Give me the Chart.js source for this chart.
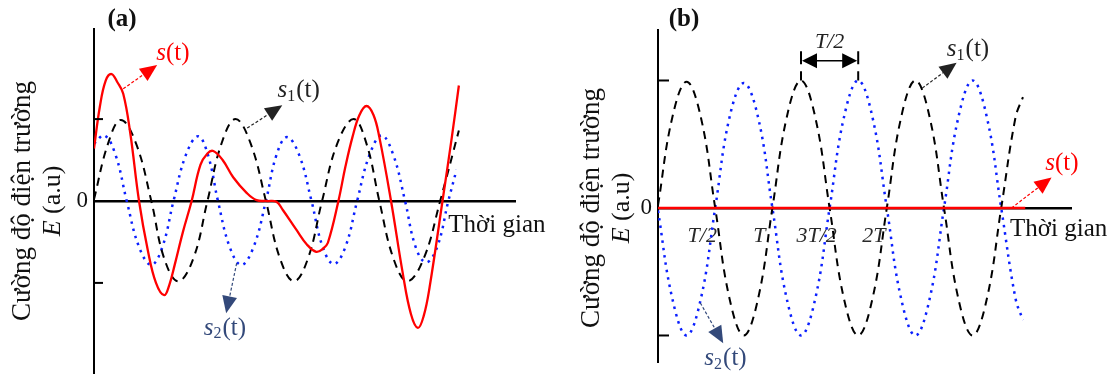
<!DOCTYPE html>
<html>
<head>
<meta charset="utf-8">
<script src="https://cdn.jsdelivr.net/npm/chart.js"></script>
<style>
  html, body { margin: 0; padding: 0; background: #fff; }
  #wrap { position: relative; width: 1113px; height: 376px; }
  canvas { position: absolute; top: 0; }
  #chartA { left: 0; }
  #chartB { left: 556px; }
</style>
</head>
<body>
<div id="wrap">
  <canvas id="chartA" width="556" height="376"></canvas>
  <canvas id="chartB" width="557" height="376"></canvas>
</div>
<script>
// time in units of T (period of s1), field E in a.u.

// (a) two waves of different period
var tS1a = [0, 0.12, 0.23, 0.36, 0.49, 0.6, 0.72, 0.85, 0.97, 1.09, 1.21, 1.34, 1.47, 1.59, 1.71, 1.83, 1.95, 2.08, 2.22, 2.33, 2.44, 2.56, 2.68, 2.82, 2.96, 3.12];
var s1a  = [0.02, 0.7, 0.99, 0.7, 0, -0.7, -0.98, -0.7, 0, 0.7, 1.0, 0.7, 0, -0.7, -0.98, -0.7, 0, 0.7, 1.0, 0.7, 0, -0.7, -0.98, -0.7, 0, 0.86];

var tS2a = [0, 0.09, 0.185, 0.28, 0.385, 0.49, 0.585, 0.68, 0.785, 0.89, 0.975, 1.06, 1.16, 1.26, 1.365, 1.47, 1.56, 1.65, 1.755, 1.86, 1.955, 2.05, 2.15, 2.25, 2.355, 2.46, 2.56, 2.66, 2.75, 2.84, 2.935, 3.03, 3.1];
var s2a  = [0.7, 0.8, 0.56, 0, -0.56, -0.78, -0.56, 0, 0.56, 0.79, 0.56, 0, -0.56, -0.78, -0.56, 0, 0.56, 0.78, 0.56, 0, -0.56, -0.77, -0.56, 0, 0.56, 0.8, 0.56, 0, -0.56, -0.75, -0.56, 0, 0.38];

var tSa = [0, 0.05, 0.1, 0.15, 0.2, 0.25, 0.31, 0.385, 0.46, 0.53, 0.6, 0.645, 0.69, 0.76, 0.835, 0.91, 0.97, 1.02, 1.1, 1.19, 1.305, 1.39, 1.48, 1.56, 1.615, 1.73, 1.82, 1.9, 1.96, 2.0, 2.09, 2.15, 2.21, 2.27, 2.33, 2.39, 2.44, 2.54, 2.64, 2.71, 2.77, 2.82, 2.87, 2.98, 3.06, 3.12];
var sa  = [0.64, 1.15, 1.47, 1.55, 1.45, 1.31, 0.83, 0, -0.6, -1.0, -1.15, -1.02, -0.78, -0.38, 0, 0.44, 0.58, 0.61, 0.5, 0.29, 0.1, 0.01, 0, -0.01, -0.11, -0.35, -0.53, -0.62, -0.58, -0.51, 0, 0.42, 0.78, 1.05, 1.16, 1.05, 0.78, 0, -0.88, -1.38, -1.55, -1.4, -1.05, 0, 0.78, 1.41];

// (b) same period, opposite phase -> s(t) = 0
var tB  = [0, 0.125, 0.25, 0.375, 0.5, 0.625, 0.75, 0.875, 1, 1.125, 1.25, 1.375, 1.5, 1.625, 1.75, 1.875, 2, 2.125, 2.25, 2.375, 2.5, 2.625, 2.75, 2.875, 3, 3.125, 3.19];
var s1b = [0.02, 0.71, 0.99, 0.71, 0, -0.71, -1, -0.71, 0, 0.71, 1, 0.71, 0, -0.71, -1, -0.71, 0, 0.71, 1, 0.71, 0, -0.71, -1, -0.71, 0, 0.71, 0.87];
var s2b = [-0.02, -0.71, -1, -0.71, 0, 0.71, 0.98, 0.71, 0, -0.71, -1, -0.71, 0, 0.71, 1, 0.71, 0, -0.71, -1, -0.71, 0, 0.71, 1, 0.71, 0, -0.71, -0.88];
var tSb = [0, 3.21];
var sb  = [0, 0];

var yTicks = [-1, 0, 1];
var xTicksB = [0.5, 1, 1.5, 2];
var xLabelsB = ['T/2', 'T', '3T/2', '2T'];

// annotations, in data units: [t1, v1, t2, v2, colour]
var arrowsA = [[0.25, 1.37, 0.54, 1.66, '#ff0000'], [1.31, 0.89, 1.61, 1.17, '#222222'], [1.22, -0.76, 1.13, -1.37, '#33497a']];
var labelsA = [[0.675, 1.8, '', '#ff0000'], [1.75, 1.35, '1', '#222222'], [1.12, -1.55, '2', '#33497a']];
var arrowsB = [[2.31, 0.94, 2.61, 1.14, '#222222'], [3.09, 0, 3.44, 0.24, '#ff0000'], [0.37, -0.745, 0.57, -1.06, '#33497a']];
var labelsB = [[2.71, 1.24, '1', '#222222'], [3.53, 0.35, '', '#ff0000'], [0.59, -1.18, '2', '#33497a']];

var serif = '"Liberation Serif", "Times New Roman", serif';

function pts(ts, vs) {
  return ts.map(function (t, i) { return { x: t, y: vs[i] }; });
}

function arrow(ctx, x1, y1, x2, y2, color) {
  var a = Math.atan2(y2 - y1, x2 - x1);
  var len = 17, half = 7.5;
  var bx = x2 - len * Math.cos(a), by = y2 - len * Math.sin(a);
  ctx.save();
  ctx.strokeStyle = color;
  ctx.lineWidth = 1.2;
  ctx.setLineDash([3, 2]);
  ctx.beginPath(); ctx.moveTo(x1, y1); ctx.lineTo(bx, by); ctx.stroke();
  ctx.setLineDash([]);
  ctx.fillStyle = color;
  ctx.beginPath();
  ctx.moveTo(x2, y2);
  ctx.lineTo(bx + half * Math.sin(a), by - half * Math.cos(a));
  ctx.lineTo(bx - half * Math.sin(a), by + half * Math.cos(a));
  ctx.closePath();
  ctx.fill();
  ctx.restore();
}

function signal(ctx, x, y, sub, color) {
  var big = 'italic 25px ' + serif, reg = '25px ' + serif, small = '16px ' + serif;
  ctx.font = big; var w1 = ctx.measureText('s').width;
  ctx.font = small; var w2 = sub ? ctx.measureText(sub).width + 1 : 0;
  ctx.font = reg; var w3 = ctx.measureText('(t)').width;
  var x0 = x - (w1 + w2 + w3) / 2;
  ctx.fillStyle = color;
  ctx.textAlign = 'left';
  ctx.textBaseline = 'middle';
  ctx.font = big; ctx.fillText('s', x0, y);
  if (sub) { ctx.font = small; ctx.fillText(sub, x0 + w1, y + 6); }
  ctx.font = reg; ctx.fillText('(t)', x0 + w1 + w2, y);
}

function notes(cfg) {
  return {
    id: 'notes',
    afterDatasetsDraw: function (chart) {
      var ctx = chart.ctx, area = chart.chartArea;
      var sx = chart.scales.x, sy = chart.scales.y;
      var px = function (t) { return sx.getPixelForValue(t); };
      var py = function (v) { return sy.getPixelForValue(v); };
      ctx.save();

      // short tick marks on the E axis, pointing inwards
      ctx.strokeStyle = '#000';
      ctx.lineWidth = 2;
      yTicks.forEach(function (v) {
        if (v === 0) return;
        ctx.beginPath();
        ctx.moveTo(area.left, py(v));
        ctx.lineTo(area.left + cfg.tick, py(v));
        ctx.stroke();
      });

      cfg.arrows.forEach(function (a) { arrow(ctx, px(a[0]), py(a[1]), px(a[2]), py(a[3]), a[4]); });
      cfg.labels.forEach(function (l) { signal(ctx, px(l[0]), py(l[1]), l[2], l[3]); });

      // panel letter
      ctx.fillStyle = '#111';
      ctx.font = 'bold 25px ' + serif;
      ctx.textAlign = 'center';
      ctx.textBaseline = 'middle';
      ctx.fillText(cfg.panel, px(cfg.panelAt[0]), py(cfg.panelAt[1]));

      // time axis name
      ctx.font = '25px ' + serif;
      ctx.textAlign = 'left';
      ctx.fillText('Thời gian', px(cfg.timeAt[0]), py(cfg.timeAt[1]));

      // E axis name, two rotated lines
      var cy = py(0);
      ctx.save();
      ctx.translate(area.left - cfg.title[0], cy);
      ctx.rotate(-Math.PI / 2);
      ctx.textAlign = 'center';
      ctx.font = '27px ' + serif;
      ctx.fillText('Cường độ điện trường', 0, 0);
      ctx.restore();
      ctx.save();
      ctx.translate(area.left - cfg.title[1], cy);
      ctx.rotate(-Math.PI / 2);
      ctx.font = 'italic 26px ' + serif; var we = ctx.measureText('E').width;
      ctx.font = '26px ' + serif; var wr = ctx.measureText(' (a.u)').width;
      ctx.textAlign = 'left';
      ctx.font = 'italic 26px ' + serif;
      ctx.fillText('E', -(we + wr) / 2, 0);
      ctx.font = '26px ' + serif;
      ctx.fillText(' (a.u)', -(we + wr) / 2 + we, 0);
      ctx.restore();

      // T/2 bracket between a peak of s1 and a peak of s2
      if (cfg.bracket) {
        var b = cfg.bracket;
        var xl = px(b[0]), xr = px(b[1]), ya = py(b[2]);
        ctx.lineWidth = 2;
        ctx.setLineDash([13, 7]);
        [xl, xr].forEach(function (xx) {
          ctx.beginPath(); ctx.moveTo(xx, py(b[3])); ctx.lineTo(xx, py(1)); ctx.stroke();
        });
        ctx.setLineDash([]);
        ctx.lineWidth = 1.3;
        ctx.beginPath(); ctx.moveTo(xl + 12, ya); ctx.lineTo(xr - 12, ya); ctx.stroke();
        ctx.fillStyle = '#000';
        ctx.beginPath(); ctx.moveTo(xl + 1, ya); ctx.lineTo(xl + 16, ya - 7.5); ctx.lineTo(xl + 16, ya + 7.5); ctx.closePath(); ctx.fill();
        ctx.beginPath(); ctx.moveTo(xr - 1, ya); ctx.lineTo(xr - 16, ya - 7.5); ctx.lineTo(xr - 16, ya + 7.5); ctx.closePath(); ctx.fill();
        ctx.fillStyle = '#222';
        ctx.font = 'italic 22px ' + serif;
        ctx.textAlign = 'center';
        ctx.fillText('T/2', (xl + xr) / 2, py(b[4]));
      }
      ctx.restore();
    }
  };
}

function lineSet(label, data, color, width, dash) {
  return {
    label: label,
    data: data,
    borderColor: color,
    borderWidth: width,
    borderDash: dash,
    pointRadius: 0,
    fill: false,
    tension: 0.4
  };
}

function noEdgePadding(s) {
  s.paddingTop = 0; s.paddingBottom = 0;
  s.paddingLeft = 0; s.paddingRight = 0;
}

function makeChart(id, sets, o) {
  return new Chart(id, {
    type: 'line',
    data: { datasets: sets },
    options: {
      responsive: false,
      animation: false,
      layout: { padding: o.padding },
      plugins: { legend: { display: false }, tooltip: { enabled: false } },
      scales: {
        x: {
          type: 'linear',
          min: 0,
          max: o.xMax,
          position: { y: 0 },
          afterFit: function (s) { s.height = 0; noEdgePadding(s); },
          afterBuildTicks: function (s) {
            if (o.xTicks) s.ticks = o.xTicks.map(function (v) { return { value: v }; });
          },
          grid: { display: false, drawTicks: false },
          border: { color: '#000', width: 2.5 },
          ticks: {
            display: !!o.xTicks,
            autoSkip: false,
            maxRotation: 0,
            minRotation: 0,
            padding: 15,
            labelOffset: -13,
            color: '#2a2a2a',
            font: { family: serif, size: 22, style: 'italic' },
            callback: function (v) {
              var i = (o.xTicks || []).indexOf(v);
              return i >= 0 ? o.xLabels[i] : '';
            }
          }
        },
        y: {
          type: 'linear',
          min: o.yMin,
          max: o.yMax,
          afterFit: function (s) { s.width = o.axisLeft; noEdgePadding(s); },
          afterBuildTicks: function (s) { s.ticks = yTicks.map(function (v) { return { value: v }; }); },
          grid: { display: false, drawTicks: false },
          border: { color: '#000', width: 2 },
          ticks: {
            padding: 6,
            color: '#111',
            font: { family: serif, size: 23 },
            callback: function (v) { return v === 0 ? '0' : ''; }
          }
        }
      }
    },
    plugins: [notes(o.notes)]
  });
}

makeChart('chartA', [
  lineSet('s(t)', pts(tSa, sa), '#ff0000', 2.3, []),
  lineSet('s1(t)', pts(tS1a, s1a), '#000000', 2, [8, 6]),
  lineSet('s2(t)', pts(tS2a, s2a), '#0a1fff', 2.5, [2.5, 5])
], {
  padding: { left: 0, right: 41, top: 29, bottom: 3 },
  axisLeft: 94,
  xMax: 3.6,
  yMin: -2.1,
  yMax: 2.1,
  notes: {
    tick: 9,
    arrows: arrowsA,
    labels: labelsA,
    panel: '(a)',
    panelAt: [0.24, 2.21],
    timeAt: [3.03, -0.3],
    title: [71, 41]
  }
});

makeChart('chartB', [
  lineSet('s(t)', pts(tSb, sb), '#ff0000', 2.5, []),
  lineSet('s1(t)', pts(tB, s1b), '#000000', 2, [8, 6]),
  lineSet('s2(t)', pts(tB, s2b), '#0a1fff', 2.5, [2.5, 5])
], {
  padding: { left: 0, right: 42, top: 30, bottom: 14 },
  axisLeft: 102,
  xMax: 3.61,
  yMin: -1.208,
  yMax: 1.396,
  xTicks: xTicksB,
  xLabels: xLabelsB,
  notes: {
    tick: 11,
    arrows: arrowsB,
    labels: labelsB,
    panel: '(b)',
    panelAt: [0.227, 1.475],
    timeAt: [3.077, -0.165],
    title: [66, 36],
    bracket: [1.25, 1.75, 1.155, 1.23, 1.3]
  }
});
</script>
</body>
</html>
